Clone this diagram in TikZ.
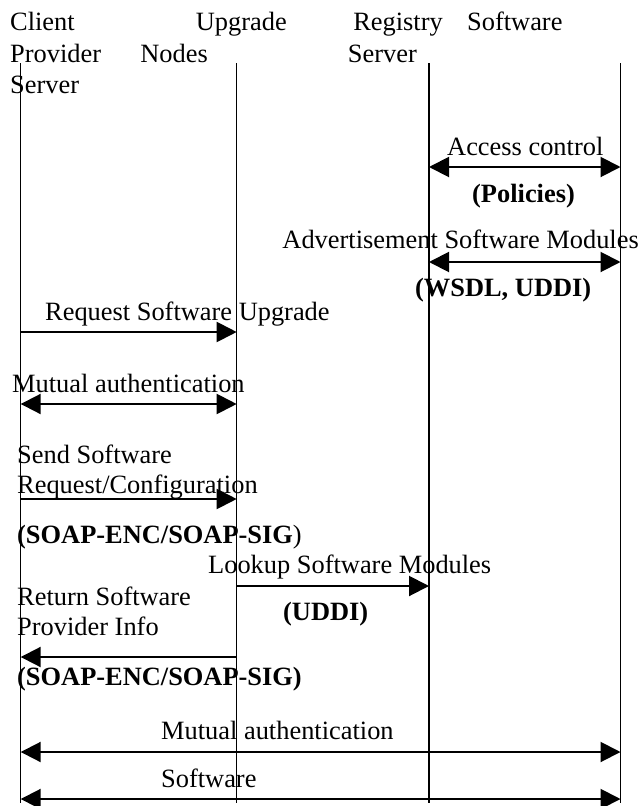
\documentclass[tikz,border=0pt]{standalone}
\usepackage{fontspec}
\setmainfont{Liberation Serif}
\usetikzlibrary{arrows.meta}
\begin{document}
\begin{tikzpicture}[x=1pt,y=-1pt,
  lifeline/.style={line width=1.5pt},
  tip/.tip={Triangle[length=20pt,width=20pt]},
  msg/.style={line width=2pt,-tip},
  both/.style={line width=2pt,tip-tip},
  lbl/.style={anchor=base west,inner sep=0pt,font=\fontsize{26.4}{30}\selectfont},
  lble/.style={lbl,anchor=base east},
  bf/.style={lbl,font=\fontsize{26.4}{30}\selectfont\bfseries}]
\useasboundingbox (0,0) rectangle (644,806);

% participants
\node[lbl] (h1a) at (10,30) {Client};
\node[lbl] (h1b) at (10,62) {Provider};
\node[lbl] (h1c) at (10,93) {Server};
\node[lble] (h2a) at (287,30) {Upgrade};
\node[lble] (h2b) at (208,62) {Nodes};
\node[lble] (h3a) at (443,30) {Registry};
\node[lble] (h3b) at (417,62) {Server};
\node[lbl] (h4a) at (467,30) {Software};

% lifelines
\coordinate (cT) at (20.7,63);  \coordinate (cB) at (20.7,803);
\coordinate (uT) at (236.7,63); \coordinate (uB) at (236.7,803);
\coordinate (rT) at (429,63);   \coordinate (rB) at (429,803);
\coordinate (sT) at (620.5,63); \coordinate (sB) at (620.5,803);
\draw[lifeline] (cT) -- (cB);
\draw[lifeline] (uT) -- (uB);
\draw[lifeline] (rT) -- (rB);
\draw[lifeline] (sT) -- (sB);

% message end points
\coordinate (r1) at (429,167);   \coordinate (s1) at (620.5,167);
\coordinate (r2) at (429,262);   \coordinate (s2) at (620.5,262);
\coordinate (c3) at (20.7,332);  \coordinate (u3) at (236.7,332);
\coordinate (c4) at (20.7,404);  \coordinate (u4) at (236.7,404);
\coordinate (c5) at (20.7,499);  \coordinate (u5) at (236.7,499);
\coordinate (u6) at (236.7,586); \coordinate (r6) at (429,586);
\coordinate (u7) at (236.7,657); \coordinate (c7) at (20.7,657);
\coordinate (c8) at (20.7,752);  \coordinate (s8) at (620.5,752);
\coordinate (c9) at (20.7,799);  \coordinate (s9) at (620.5,799);

% messages
\draw[both] (r1) -- (s1);
\node[lbl] (m1) at (447,155) {Access control};
\node[bf] (m1b) at (472,202) {(Policies)};

\draw[both] (r2) -- (s2);
\node[lble] (m2) at (639,248) {Advertisement Software Modules};
\node[bf] (m2b) at (415,296) {(WSDL, UDDI)};

\draw[msg] (c3) -- (u3);
\node[lbl] (m3) at (45,320) {Request Software Upgrade};

\draw[both] (c4) -- (u4);
\node[lbl] (m4) at (12,392) {Mutual authentication};

\draw[msg] (c5) -- (u5);
\node[lbl] (m5a) at (17,463) {Send Software};
\node[lbl] (m5b) at (17,493) {Request/Configuration};
\node[lbl] (m5c) at (17,543) {\textbf{(SOAP-ENC/SOAP-SIG})};

\draw[msg] (u6) -- (r6);
\node[lbl] (m6) at (208,573) {Lookup Software Modules};
\node[bf] (m6b) at (283,620) {(UDDI)};

\draw[msg] (u7) -- (c7);
\node[lbl] (m7a) at (17,605) {Return Software};
\node[lbl] (m7b) at (17,635) {Provider Info};
\node[bf] (m7c) at (17,685) {(SOAP-ENC/SOAP-SIG)};

\draw[both] (c8) -- (s8);
\node[lbl] (m8) at (161,739) {Mutual authentication};

\draw[both] (c9) -- (s9);
\node[lbl] (m9) at (161,787) {Software};
\end{tikzpicture}
\end{document}
